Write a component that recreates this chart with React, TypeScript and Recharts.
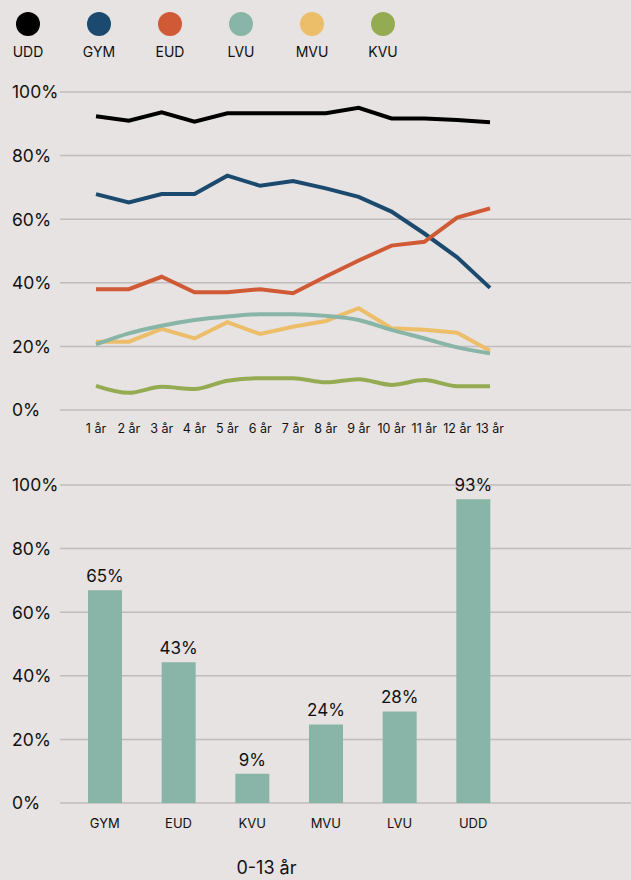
import { LineChart, Line, BarChart, Bar, XAxis, YAxis, CartesianGrid, LabelList } from "recharts";

const years = ["1 år", "2 år", "3 år", "4 år", "5 år", "6 år", "7 år", "8 år", "9 år", "10 år", "11 år", "12 år", "13 år"];

const udd = [92.4, 91, 93.6, 90.7, 93.3, 93.3, 93.3, 93.3, 95, 91.7, 91.7, 91.2, 90.5];
const gym = [67.9, 65.3, 67.9, 67.9, 73.7, 70.5, 72, 69.7, 67, 62.4, 55.5, 48, 38.4];
const eud = [38, 38, 41.9, 37, 37, 38, 36.7, 42, 47, 51.7, 52.9, 60.5, 63.4];
const lvu = [20.6, 24.1, 26.5, 28.3, 29.4, 30.1, 30.1, 29.6, 28.3, 25.2, 22.5, 19.7, 17.8];
const mvu = [21.5, 21.5, 25.5, 22.5, 27.6, 23.9, 26.2, 28, 32, 25.7, 25.2, 24.3, 18.6];
const kvu = [7.6, 5.4, 7.3, 6.6, 9.2, 10, 10, 8.7, 9.7, 7.9, 9.4, 7.5, 7.5];

const barCategories = ["GYM", "EUD", "KVU", "MVU", "LVU", "UDD"];
const barValues = [66.9, 44.3, 9.2, 24.7, 28.8, 95.5];
const barLabels = ["65%", "43%", "9%", "24%", "28%", "93%"];

const yTicks = [0, 20, 40, 60, 80, 100];

const colors: Record<string, string> = {
  UDD: "#000000",
  GYM: "#1c4a6e",
  EUD: "#d05a35",
  LVU: "#88b5a8",
  MVU: "#edbe69",
  KVU: "#95ab52",
};
const legendOrder = ["UDD", "GYM", "EUD", "LVU", "MVU", "KVU"];

const bg = "#e7e3e2";
const gridColor = "#c0bcbb";
const font = "Inter, 'Noto Sans', sans-serif";

const lineData = years.map((y, i) => ({
  name: y,
  UDD: udd[i],
  GYM: gym[i],
  EUD: eud[i],
  LVU: lvu[i],
  MVU: mvu[i],
  KVU: kvu[i],
}));

const barData = barCategories.map((c, i) => ({ name: c, value: barValues[i], label: barLabels[i] }));

const LeftTick = (props: any) => {
  const { x, y, payload } = props;
  return (
    <text x={x - 40} y={y} dy="0.36em" textAnchor="start" fontSize={17.5} fill="#111" fontFamily={font}>
      {payload.value}%
    </text>
  );
};

export default function App() {
  return (
    <div style={{ position: "absolute", left: 0, top: 0, width: 631, height: 880, background: bg, fontFamily: font, overflow: "hidden" }}>
      <div style={{ position: "absolute", top: 12, left: 0 }}>
        {legendOrder.map((k, i) => (
          <div key={k} style={{ position: "absolute", left: 28 + i * 71 - 30, width: 60, textAlign: "center" }}>
            <div style={{ width: 24, height: 24, borderRadius: 12, background: colors[k], margin: "0 auto" }} />
            <div style={{ fontSize: 14, color: "#111", marginTop: 7 }}>{k}</div>
          </div>
        ))}
      </div>

      <div style={{ position: "absolute", top: 80, left: 0 }}>
        <LineChart width={631} height={360} data={lineData} margin={{ top: 12, right: 0, left: 0, bottom: 0 }}>
          <CartesianGrid vertical={false} stroke={gridColor} strokeWidth={1.5} />
          <XAxis
            dataKey="name"
            axisLine={false}
            tickLine={false}
            padding={{ left: 36, right: 141 }}
            tick={{ fontSize: 12.5, fill: "#111", fontFamily: font }}
            tickMargin={8}
            height={30}
            interval={0}
          />
          <YAxis domain={[0, 100]} ticks={yTicks} axisLine={false} tickLine={false} width={60} tick={<LeftTick />} />
          <Line type="linear" dataKey="UDD" stroke={colors.UDD} strokeWidth={4} dot={false} isAnimationActive={false} />
          <Line type="linear" dataKey="GYM" stroke={colors.GYM} strokeWidth={4} dot={false} isAnimationActive={false} />
          <Line type="linear" dataKey="EUD" stroke={colors.EUD} strokeWidth={4} dot={false} isAnimationActive={false} />
          <Line type="linear" dataKey="MVU" stroke={colors.MVU} strokeWidth={4} dot={false} isAnimationActive={false} />
          <Line type="monotone" dataKey="LVU" stroke={colors.LVU} strokeWidth={4} dot={false} isAnimationActive={false} />
          <Line type="monotone" dataKey="KVU" stroke={colors.KVU} strokeWidth={4} dot={false} isAnimationActive={false} />
        </LineChart>
      </div>

      <div style={{ position: "absolute", top: 460, left: 0 }}>
        <BarChart width={631} height={383} data={barData} margin={{ top: 25, right: 0, left: 0, bottom: 0 }}>
          <CartesianGrid vertical={false} stroke={gridColor} strokeWidth={1.5} />
          <XAxis
            dataKey="name"
            axisLine={false}
            tickLine={false}
            padding={{ left: 8, right: 121 }}
            tick={{ fontSize: 13, fill: "#111", fontFamily: font }}
            tickMargin={10}
            height={40}
            interval={0}
          />
          <YAxis domain={[0, 100]} ticks={yTicks} axisLine={false} tickLine={false} width={60} tick={<LeftTick />} />
          <Bar dataKey="value" fill={colors.LVU} barSize={34} isAnimationActive={false}>
            <LabelList dataKey="label" position="top" offset={8} fill="#111" fontSize={17} fontFamily={font} />
          </Bar>
        </BarChart>
      </div>

      <div style={{ position: "absolute", top: 857, left: 0, width: 533, textAlign: "center", fontSize: 18, lineHeight: "22px", color: "#111" }}>0-13 år</div>
    </div>
  );
}
